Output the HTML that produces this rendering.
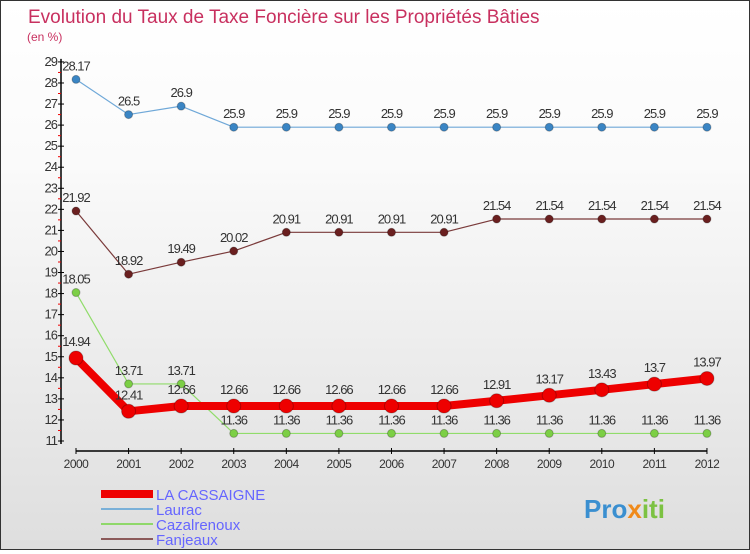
<!DOCTYPE html>
<html><head><meta charset="utf-8"><style>
body{margin:0}
#c{width:748px;height:548px;border:1px solid #333;background:linear-gradient(#fff,#fafafa 30%,#dedede);position:relative;font-family:"Liberation Sans",sans-serif}
</style></head><body>
<div id="c">
<svg id="s" width="748" height="548" xmlns="http://www.w3.org/2000/svg" font-family="Liberation Sans, sans-serif">
<text x="27" y="22" font-size="19" fill="#c8305f">Evolution du Taux de Taxe Foncière sur les Propriétés Bâties</text>
<text x="26" y="40" font-size="12" fill="#c8305f">(en %)</text>
<g id="axes"></g><g id="series"></g>
<g>
<rect x="100" y="489" width="52" height="8" fill="#e00"/>
<text x="155" y="499" font-size="15" fill="#66f">LA CASSAIGNE</text>
<line x1="100" x2="152" y1="508" y2="508" stroke="#7ab0d8" stroke-width="2"/>
<text x="155" y="514" font-size="15" fill="#66f">Laurac</text>
<line x1="100" x2="152" y1="523" y2="523" stroke="#8fd86a" stroke-width="2"/>
<text x="155" y="529" font-size="15" fill="#66f">Cazalrenoux</text>
<line x1="100" x2="152" y1="538" y2="538" stroke="#8b5a5a" stroke-width="2"/>
<text x="155" y="544" font-size="15" fill="#66f">Fanjeaux</text>
</g>
<text x="583" y="517" font-size="26" font-weight="bold" fill="#3a8fd0">Pro<tspan fill="#f08a1a">x</tspan><tspan fill="#7cc242">iti</tspan></text>
</svg></div>
<script>
const years=[2000,2001,2002,2003,2004,2005,2006,2007,2008,2009,2010,2011,2012];
const yTicks=[11,12,13,14,15,16,17,18,19,20,21,22,23,24,25,26,27,28,29];
const laCassaigne=[14.94,12.41,12.66,12.66,12.66,12.66,12.66,12.66,12.91,13.17,13.43,13.7,13.97];
const laurac=[28.17,26.5,26.9,25.9,25.9,25.9,25.9,25.9,25.9,25.9,25.9,25.9,25.9];
const cazalrenoux=[18.05,13.71,13.71,11.36,11.36,11.36,11.36,11.36,11.36,11.36,11.36,11.36,11.36];
const fanjeaux=[21.92,18.92,19.49,20.02,20.91,20.91,20.91,20.91,21.54,21.54,21.54,21.54,21.54];
const NS="http://www.w3.org/2000/svg";
const X=y=>75+(y-2000)*52.58;
const Y=v=>440-(v-11)*21.06;
function mk(tag,attrs,parent){const e=document.createElementNS(NS,tag);for(const k in attrs)e.setAttribute(k,attrs[k]);parent.appendChild(e);return e;}
const ax=document.getElementById('axes');
let yl=mk('line',{x1:60,x2:60,y1:Y(29)-3,y2:Y(11)+3,stroke:'#000','stroke-width':1.5},ax);


yTicks.forEach(v=>{
  mk('line',{x1:57,x2:63,y1:Y(v),y2:Y(v),stroke:'#000'},ax);
  if(v<29)mk('line',{x1:57,x2:60,y1:Y(v+0.5),y2:Y(v+0.5),stroke:'#e00'},ax);
  const t=mk('text',{x:56,y:Y(v)+4,'font-size':13,'text-anchor':'end',fill:'#333','letter-spacing':'-1'},ax);
  t.textContent=v;
  
  
});
let xl=mk('line',{x1:X(2000),x2:X(2012),y1:450,y2:450,stroke:'#000','stroke-width':1.5},ax);


years.forEach(y=>{
  mk('line',{x1:X(y),x2:X(y),y1:447,y2:453,stroke:'#000'},ax);
  const t=mk('text',{x:X(y),y:467,'font-size':12,'text-anchor':'middle',fill:'#333','letter-spacing':'-0.5'},ax);
  t.textContent=y;
  
  
});
const sg=document.getElementById('series');
function series(name,vals,color,lw,r,dotFill){
  const g=mk('g',{},sg);
  
  
  mk('polyline',{points:vals.map((v,i)=>X(years[i])+','+Y(v)).join(' '),fill:'none',stroke:color,'stroke-width':lw,'stroke-linejoin':'round'},g);
  vals.forEach((v,i)=>{
    const c=mk('circle',{cx:X(years[i]),cy:Y(v),r:r,fill:dotFill,stroke:'rgba(0,0,0,0.25)'},g);
    
    
    const t=mk('text',{x:X(years[i]),y:Y(v)-(r+5),'font-size':13,'text-anchor':'middle',fill:'#333','letter-spacing':'-1'},g);
    t.textContent=String(v);
    
    
  });
}
series('laurac',laurac,'#6fa8d8',1.2,4,'#3a85c4');
series('fanjeaux',fanjeaux,'#7a3a3a',1.2,4,'#6a1f1f');
series('cazalrenoux',cazalrenoux,'#90dc6a',1.2,4,'#7ccf45');
series('la-cassaigne',laCassaigne,'#e00',8,7,'#e00');
</script>
</body></html>
